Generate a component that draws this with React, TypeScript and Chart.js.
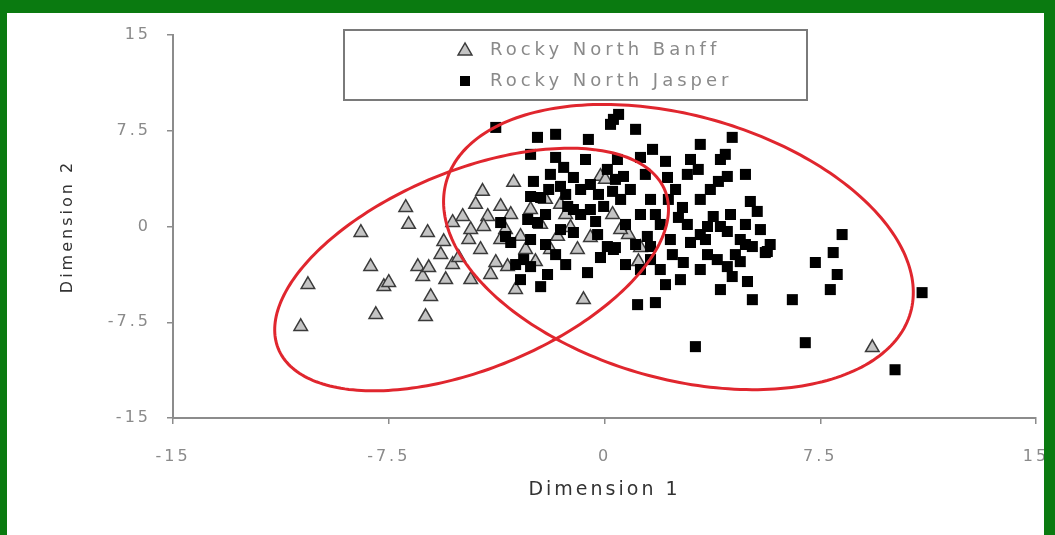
import React, { useEffect, useRef } from 'react';
import { Chart, registerables } from 'chart.js';

Chart.register(...registerables);

const SERIES_NAMES = ['Rocky North Banff', 'Rocky North Jasper'];
const X_TITLE = 'Dimension 1';
const Y_TITLE = 'Dimension 2';
const X_TICKS = [-15, -7.5, 0, 7.5, 15];
const Y_TICKS = [-15, -7.5, 0, 7.5, 15];

const BANFF_X = [-10.56, -10.31, -8.47, -8.13, -7.95, -7.67, -7.5, -6.91, -6.81, -6.49,
  -6.32, -6.11, -6.04, -6.22, -6.15, -5.59, -5.52, -5.28, -4.93, -5.28,
  -4.72, -4.24, -4.06, -3.61, -4.2, -4.31, -3.78, -3.37, -5.07, -3.16,
  -2.92, -2.57, -1.88, -1.63, -0.94, -0.73, -0.14, -3.09, 0.28, 0.83,
  1.18, 1.25, 9.31, -2.05, -1.18, -3.61, -3.96, -2.4, 0.03, -4.65,
  -3.44, -2.22, -1.35, -4.48, -3.26, -2.74, -1.53, -0.49, 0.56, -4.65,
  -5.69];
const BANFF_Y = [-7.84, -4.55, -0.47, -3.14, -6.9, -4.71, -4.39, 1.49, 0.16, -3.14,
  -3.92, -3.22, -5.49, -7.06, -0.47, -1.18, -4.16, 0.31, 0.78, -2.98,
  -1.02, 2.75, 0.78, 1.57, 0, -1.8, -2.82, -3.14, -2.43, 3.45,
  -0.78, 1.33, -1.8, -0.78, -1.8, -5.73, 3.92, -4.94, 0.94, -0.63,
  -2.75, -1.65, -9.49, 2.12, -0.08, -1.02, -3.76, -2.75, 3.69, -0.24,
  -0.24, 0.16, 0.94, 1.73, 0.94, -1.8, 1.73, -0.86, -0.24, -4.16,
  -2.2];

const JASPER_X = [-3.78, -2.33, -1.70, -0.56, -2.57, -1.70, -1.88, -1.08, -2.47, -1.53,
  -0.83, -2.57, -2.22, -1.28, -1.08, -0.03, -2.67, -2.33, -3.61, -3.44,
  -1.08, -0.24, -3.26, 0.10, 0.31, -2.81, -2.57, -1.98, -2.92, -2.22,
  -0.59, 0.31, 0.49, 0.21, 1.08, 4.44, 3.33, 1.67, 1.25, 2.12,
  2.99, 4.20, 2.88, 3.26, 2.19, 3.96, 4.27, 4.90, 0.66, 0.10,
  5.07, 5.31, 2.71, 2.57, 2.88, 3.78, 3.58, 4.03, 4.27, 4.72,
  5.14, 5.66, 1.49, 1.60, 0.38, 2.99, 2.36, 2.74, 3.58, 3.92,
  4.27, 4.44, 4.97, 5.14, 1.15, 1.77, 1.60, 8.26, 5.59, 7.95,
  7.33, 8.09, 7.85, 6.53, 11.04, 6.98, 10.10, 3.16, -0.49, 0.90,
  0.56, 1.25, 1.94, 3.33, 4.55, 1.94, 0.73, -1.70, -1.35, -2.05,
  -0.49, 0.38, 1.60, 2.29, 3.33, 4.90, 4.72,
  -1.94, -1.42, -0.66, -0.21, 0.28, -0.83, -0.31, -1.53, -2.05, -2.57,
  -3.09, -1.35, -0.14, 0.73, 1.08, 1.25, 1.77, 2.22, 2.47, 3.68,
  3.51, 4.38, 4.90, 5.42, 5.76, 4.03, 3.33, 2.64, 2.12, 0.45,
  1.42, 4.03];
const JASPER_Y = [7.76, 6.98, 7.22, 6.82, 5.65, 5.41, 4.08, 3.84, 3.53, 3.14,
  2.90, 2.35, 2.27, 1.57, 1.33, 1.57, 0.55, 0.31, 0.31, -0.78,
  -0.47, -0.63, -1.25, -1.57, -1.80, -2.59, -3.14, -3.76, -4.16, -4.71,
  -3.61, 8.39, 8.78, 8.0, 7.61, 6.98, 6.43, 6.04, 5.41, 5.10,
  5.25, 5.65, 4.08, 4.47, 3.84, 3.53, 3.92, 4.08, 3.92, 4.47,
  1.96, 1.18, 1.49, 0.71, 0.16, 0.78, 0, 0, -0.39, -1.02,
  -1.57, -1.96, -0.78, -1.57, -1.65, -1.25, -2.20, -2.82, -2.20, -2.59,
  -3.14, -3.92, -4.31, -5.73, -6.12, -5.96, -2.59, -0.63, -2.04, -2.04,
  -2.82, -3.76, -4.94, -5.73, -5.18, -9.10, -11.22, -9.41, 3.29, 2.90,
  2.12, 0.94, 0.16, 2.12, -2.20, -3.37, -2.98, -2.20, 2.51, 0.94,
  1.33, 3.69, 2.12, -1.02, -0.63, 0.16, -2.75,
  2.90, 4.63, 5.25, 2.51, 2.75, 0.94, 0.39, -0.24, -1.41, -1.02,
  -2.98, -2.98, -2.43, 0.16, -1.41, -3.37, 0.94, 2.12, 2.90, 2.90,
  -1.02, 0.94, -1.41, -0.24, -1.41, -4.94, -3.37, -4.16, -4.55, 5.25,
  4.08, 5.25];

// confidence ellipses: centre (x, y), first semi-axis (dx, dy), second semi-axis (dx, dy), in data units
const ELLIPSE_BANFF = [-4.62, -3.37, 6.72, 6.2, 1.3, -7.2];
const ELLIPSE_JASPER = [2.57, -1.61, 8.07, -5.12, -1.24, -9.93];

const FONT = '"DejaVu Sans", sans-serif';
const SPACING = '3px';

const spacingPlugin = {
  id: 'spacing',
  beforeUpdate(chart: any) { chart.ctx.letterSpacing = SPACING; },
  beforeDraw(chart: any) { chart.ctx.letterSpacing = SPACING; },
};

const ellipsePlugin = {
  id: 'ellipses',
  afterDatasetsDraw(chart: any) {
    const { ctx, scales } = chart;
    const xs = scales.x, ys = scales.y;
    ctx.save();
    ctx.strokeStyle = '#e0262e';
    ctx.lineWidth = 3;
    [ELLIPSE_BANFF, ELLIPSE_JASPER].forEach((e) => {
      const [cx, cy, ux, uy, vx, vy] = e;
      ctx.beginPath();
      const n = 240;
      for (let i = 0; i <= n; i++) {
        const t = (i / n) * Math.PI * 2;
        const dx = cx + Math.cos(t) * ux + Math.sin(t) * vx;
        const dy = cy + Math.cos(t) * uy + Math.sin(t) * vy;
        const px = xs.getPixelForValue(dx);
        const py = ys.getPixelForValue(dy);
        if (i === 0) ctx.moveTo(px, py); else ctx.lineTo(px, py);
      }
      ctx.closePath();
      ctx.stroke();
    });
    ctx.restore();
  },
};

const legendPlugin = {
  id: 'boxLegend',
  afterDraw(chart: any) {
    const ctx = chart.ctx;
    const bx = 344, by = 30, bw = 463, bh = 70;
    ctx.save();
    ctx.fillStyle = '#ffffff';
    ctx.fillRect(bx, by, bw, bh);
    ctx.strokeStyle = '#7a7a7a';
    ctx.lineWidth = 2;
    ctx.strokeRect(bx, by, bw, bh);
    const tx = 465, ty = 51, r = 8;
    ctx.beginPath();
    ctx.moveTo(tx, ty - r);
    ctx.lineTo(tx - r * 0.866, ty + r / 2);
    ctx.lineTo(tx + r * 0.866, ty + r / 2);
    ctx.closePath();
    ctx.fillStyle = '#c4c4c4';
    ctx.fill();
    ctx.strokeStyle = '#3a3a3a';
    ctx.lineWidth = 1.5;
    ctx.stroke();
    ctx.fillStyle = '#000000';
    ctx.fillRect(460, 76, 10, 10);
    ctx.letterSpacing = '4px';
    ctx.font = '18px ' + FONT;
    ctx.fillStyle = '#8a8a8a';
    ctx.textBaseline = 'middle';
    ctx.textAlign = 'left';
    ctx.fillText(SERIES_NAMES[0], 490, 50);
    ctx.fillText(SERIES_NAMES[1], 490, 81);
    ctx.restore();
  },
};

export default function App() {
  const ref = useRef<HTMLCanvasElement>(null);
  useEffect(() => {
    document.body.style.margin = '0';
    const banff = BANFF_X.map((x, i) => ({ x, y: BANFF_Y[i] }));
    const jasper = JASPER_X.map((x, i) => ({ x, y: JASPER_Y[i] }));
    const axisCommon = {
      border: { display: true, color: '#8c8c8c', width: 2 },
      grid: { display: true, drawOnChartArea: false, drawTicks: true, tickLength: 6, color: '#8c8c8c', lineWidth: 1.5 },
    };
    const chart = new Chart(ref.current!, {
      type: 'scatter',
      data: {
        datasets: [
          {
            label: SERIES_NAMES[1],
            data: jasper,
            order: 0,
            pointStyle: 'rect',
            pointRadius: 7.8,
            backgroundColor: '#000000',
            borderColor: '#000000',
            borderWidth: 0,
          },
          {
            label: SERIES_NAMES[0],
            data: banff,
            order: 1,
            pointStyle: 'triangle',
            pointRadius: 7.8,
            backgroundColor: '#c4c4c4',
            borderColor: '#3a3a3a',
            borderWidth: 1.5,
          },
        ],
      },
      options: {
        responsive: false,
        animation: false,
        devicePixelRatio: 1,
        layout: { padding: { left: 0, right: 19, top: 35, bottom: 0 } },
        plugins: { legend: { display: false }, tooltip: { enabled: false } },
        scales: {
          x: {
            type: 'linear',
            min: -15,
            max: 15,
            ...axisCommon,
            afterBuildTicks: (s: any) => { s.ticks = X_TICKS.map((v) => ({ value: v })); },
            afterFit: (s: any) => { s.height = 117; s.paddingLeft = 0; s.paddingRight = 0; },
            ticks: { color: '#8a8a8a', font: { family: FONT, size: 16 }, padding: 23, maxRotation: 0, callback: (v: any) => String(v) },
            title: { display: true, text: X_TITLE, color: '#333333', font: { family: FONT, size: 19 }, padding: { top: 0, bottom: 34 } },
          },
          y: {
            type: 'linear',
            min: -15,
            max: 15,
            ...axisCommon,
            afterBuildTicks: (s: any) => { s.ticks = Y_TICKS.map((v) => ({ value: v })); },
            afterFit: (s: any) => { s.width = 173; s.paddingTop = 0; s.paddingBottom = 0; },
            ticks: { color: '#8a8a8a', font: { family: FONT, size: 16 }, padding: 16, callback: (v: any) => String(v) },
            title: { display: true, text: Y_TITLE, color: '#333333', font: { family: FONT, size: 16 }, padding: { top: 58, bottom: 0 } },
          },
        },
      },
      plugins: [spacingPlugin, ellipsePlugin, legendPlugin],
    } as any);
    return () => chart.destroy();
  }, []);

  return (
    <div style={{ position: 'fixed', left: 0, top: 0, width: 1055, height: 535, background: '#ffffff', overflow: 'hidden' }}>
      <canvas ref={ref} width={1055} height={535} style={{ display: 'block', position: 'absolute', left: 0, top: 0 }} />
      <div
        style={{
          position: 'absolute', left: 0, top: 0, width: 1055, height: 535, boxSizing: 'border-box',
          borderTop: '13px solid #0a7a10', borderLeft: '7px solid #0a7a10', borderRight: '11px solid #0a7a10',
          pointerEvents: 'none',
        }}
      />
    </div>
  );
}
